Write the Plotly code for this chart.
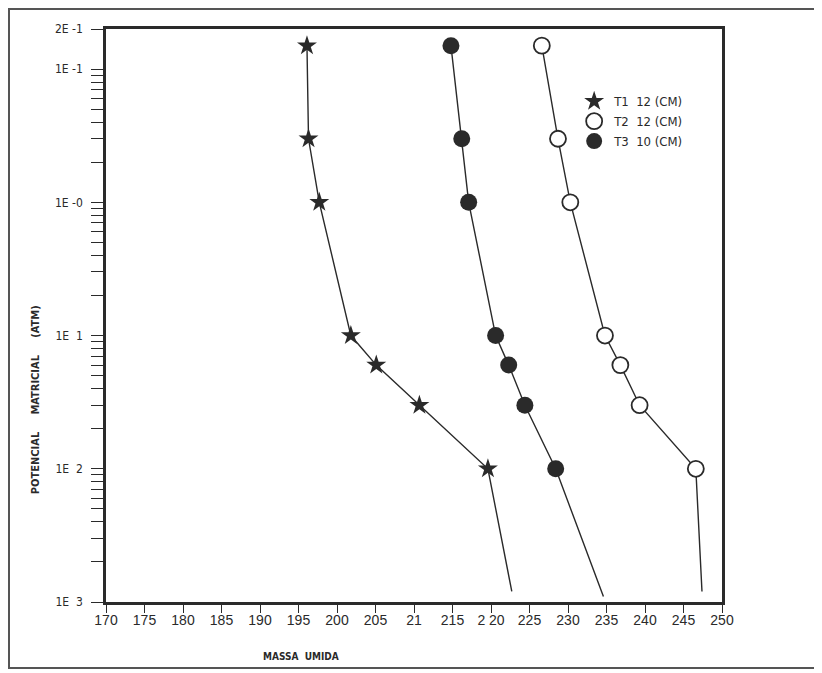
import plotly.graph_objects as go

# ---- data ----
pot_T1 = [15, 3, 1, 0.1, 0.06, 0.03, 0.01, 0.0012]
massa_T1 = [196.1, 196.3, 197.7, 201.8, 205.1, 210.7, 219.6, 222.7]

pot_T2 = [15, 3, 1, 0.1, 0.06, 0.03, 0.01, 0.0012]
massa_T2 = [226.6, 228.7, 230.3, 234.8, 236.8, 239.3, 246.6, 247.4]

pot_T3 = [15, 3, 1, 0.1, 0.06, 0.03, 0.01, 0.0011]
massa_T3 = [214.8, 216.2, 217.1, 220.6, 222.3, 224.4, 228.4, 234.6]

names = ["T1\u00a0\u00a012\u00a0(CM)", "T2\u00a0\u00a012\u00a0(CM)", "T3\u00a0\u00a010\u00a0(CM)"]

x_tickvals = [170, 175, 180, 185, 190, 195, 200, 205, 210, 215, 220, 225, 230, 235, 240, 245, 250]
x_ticktext = ["170", "175", "180", "185", "190", "195", "200", "205", "21", "215", "2 20",
              "225", "230", "235", "240", "245", "250"]

y_decades = [0.001, 0.01, 0.1, 1, 10]
y_major_text = ["1E\u00a0\u00a03", "1E\u00a0\u00a02", "1E\u00a0\u00a01", "1E\u00a0-0", "1E\u00a0-1"]
y_top_val = 20
y_top_text = "2E\u00a0-1"

INK = "#2a2a2a"
CFONT = "DejaVu Sans Condensed, Liberation Sans Narrow, Arial Narrow, sans-serif"

# build tick list (decades labelled, 2..9 unlabelled)
y_tickvals, y_ticktext = [], []
for d, t in zip(y_decades, y_major_text):
    y_tickvals.append(d)
    y_ticktext.append(t)
    if d < 10:
        for m in range(2, 10):
            y_tickvals.append(d * m)
            y_ticktext.append("")
y_tickvals.append(y_top_val)
y_ticktext.append(y_top_text)

fig = go.Figure()

series = [
    (massa_T1, pot_T1, dict(symbol="star", size=15, color=INK, line=dict(width=0))),
    (massa_T2, pot_T2, dict(symbol="circle", size=16, color="white", line=dict(width=1.8, color=INK))),
    (massa_T3, pot_T3, dict(symbol="circle", size=17, color=INK, line=dict(width=0))),
]

for (xs, ys, mk) in series:
    fig.add_trace(go.Scatter(x=xs, y=ys, mode="lines",
                             line=dict(color=INK, width=1.4),
                             showlegend=False, hoverinfo="skip"))

for (xs, ys, mk), nm in zip(series, names):
    fig.add_trace(go.Scatter(x=xs[:-1], y=ys[:-1], mode="markers",
                             marker=mk, name=nm, showlegend=True))

# page body has an 8px margin: figure is placed at (8, 8)
fig.update_layout(
    width=814, height=665,
    margin=dict(l=98, r=100, t=21, b=71),
    paper_bgcolor="white", plot_bgcolor="white",
    font=dict(family=CFONT, color=INK, size=13),
    legend=dict(x=0.760, y=0.90, xanchor="left", yanchor="top",
                bgcolor="rgba(0,0,0,0)", font=dict(size=13, family=CFONT),
                itemwidth=30, tracegroupgap=2),
    showlegend=True,
)

fig.update_xaxes(
    range=[170, 250], tickvals=x_tickvals, ticktext=x_ticktext,
    ticks="outside", ticklen=8, tickwidth=1, tickcolor=INK,
    showline=True, linewidth=2.5, linecolor=INK, mirror=True,
    showgrid=False, zeroline=False, ticklabelstandoff=-5,
    tickfont=dict(family="Liberation Sans, Arial, sans-serif", size=14, color=INK),
)
fig.update_yaxes(
    type="log", range=[-3, 1.301], tickvals=y_tickvals, ticktext=y_ticktext,
    ticks="outside", ticklen=12, tickwidth=1.2, tickcolor=INK,
    showline=True, linewidth=2.5, linecolor=INK, mirror=True,
    showgrid=False, zeroline=False, ticklabelstandoff=6,
    tickfont=dict(family=CFONT, size=12, color=INK),
)

fig.add_annotation(text="<b>POTENCIAL\u00a0\u00a0\u00a0\u00a0\u00a0MATRICIAL\u00a0\u00a0\u00a0\u00a0\u00a0(ATM)</b>",
                   xref="paper", yref="paper", x=-0.115, y=0.3525, textangle=-90,
                   xanchor="center", yanchor="middle",
                   showarrow=False, font=dict(family=CFONT, size=11, color=INK))
fig.add_annotation(text="<b>MASSA\u00a0\u00a0UMIDA</b>",
                   xref="paper", yref="paper", x=0.317, y=-0.095,
                   xanchor="center", yanchor="middle",
                   showarrow=False, font=dict(family=CFONT, size=10, color=INK))

# outer scan frame (figure coords = page coords - 8)
fig.add_shape(type="rect", xref="paper", yref="paper",
              x0=-97/616, x1=(810-98)/616, y0=-(660-594)/573, y1=(594-1)/573,
              line=dict(color="#555555", width=2))

fig.write_html("out.html")
